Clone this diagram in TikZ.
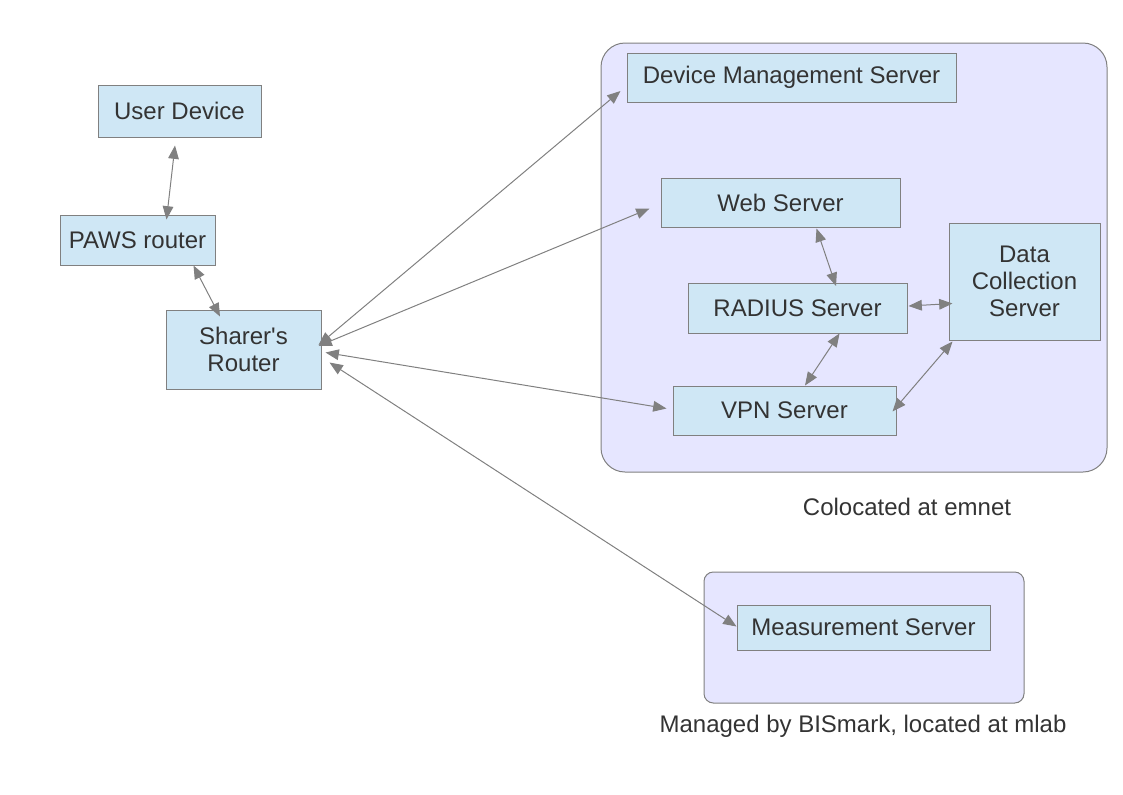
\documentclass[tikz,border=0pt]{standalone}
\usepackage{fontspec}
\setmainfont{Liberation Sans}
\usetikzlibrary{arrows.meta}
\definecolor{boxfill}{HTML}{CFE7F5}
\definecolor{groupfill}{HTML}{E6E6FF}
\definecolor{edge}{HTML}{808080}
\definecolor{ink}{HTML}{333333}
\begin{document}
\begin{tikzpicture}[x=0.75pt,y=-0.75pt,
   server/.style={draw=edge,fill=boxfill,line width=0.75pt,inner sep=0pt,
     align=center,text=ink,font=\fontsize{18}{20}\selectfont},
   group/.style={draw=edge,fill=groupfill,line width=0.75pt,inner sep=0pt},
   caption/.style={text=ink,font=\fontsize{18}{20}\selectfont},
   link/.style={draw=edge,line width=0.75pt,
     {Triangle[length=10pt,width=8pt]}-{Triangle[length=10pt,width=8pt]}}]
   \path[use as bounding box] (0,0) rectangle (1123,794);
   % location boxes
   \node[group,rounded corners=18pt,minimum width=379.5pt,minimum height=321.75pt] (emnet) at (854,257.5) {};
   \node[group,rounded corners=7pt,minimum width=240pt,minimum height=98.25pt] (mlab) at (864,637.5) {};
   \node[caption] (emnetlabel) at (907,507) {Colocated at emnet};
   \node[caption] (mlablabel) at (863,726) {Managed by BISmark, located at mlab};
   % home side
   \node[server,minimum width=122.25pt,minimum height=39pt] (ud) at (179.5,111) {User Device};
   \node[server,minimum width=116.25pt,minimum height=37.5pt] (paws) at (137.5,240) {PAWS router};
   \node[server,minimum width=116.25pt,minimum height=59.25pt] (sharer) at (243.5,349.5) {Sharer\textquotesingle s\\Router};
   % servers
   \node[server,minimum width=246.75pt,minimum height=36.75pt] (dms) at (791.5,77.5) {Device Management Server};
   \node[server,minimum width=179.25pt,minimum height=36.75pt] (web) at (780.5,202.5) {Web Server};
   \node[server,minimum width=164.25pt,minimum height=37.5pt] (radius) at (797.5,308) {RADIUS Server};
   \node[server,minimum width=113.25pt,minimum height=87.75pt] (dc) at (1024.5,281.5) {Data\\Collection\\Server};
   \node[server,minimum width=167.25pt,minimum height=36.75pt] (vpn) at (784.5,410.5) {VPN Server};
   \node[server,minimum width=189.75pt,minimum height=33.75pt] (meas) at (863.5,627.5) {Measurement Server};
   % links
   \draw[link] ([shift={(-4.5,8)}]ud.south) -- ([shift={(29,5)}]paws.north);
   \draw[link] ([shift={(56,0)}]paws.south) -- ([shift={(-23.5,7)}]sharer.north);
   \draw[link] ([shift={(-3,-4.5)}]sharer.east) -- ([shift={(-6,13.5)}]dms.west);
   \draw[link] ([shift={(-3,-3.5)}]sharer.east) -- ([shift={(-11,6)}]web.west);
   \draw[link] ([shift={(4,3)}]sharer.east) -- ([shift={(-6,-2)}]vpn.west);
   \draw[link] ([shift={(8,13)}]sharer.east) -- ([shift={(0,-1)}]meas.west);
   \draw[link] ([shift={(36,1)}]web.south) -- ([shift={(38.5,3.5)}]radius.north);
   \draw[link] ([shift={(1,-2)}]radius.east) -- ([shift={(4,22)}]dc.west);
   \draw[link] ([shift={(42,0)}]radius.south) -- ([shift={(20.5,0)}]vpn.north);
   \draw[link] ([shift={(-4,1)}]vpn.east) -- ([shift={(4,1)}]dc.south west);
\end{tikzpicture}
\end{document}
